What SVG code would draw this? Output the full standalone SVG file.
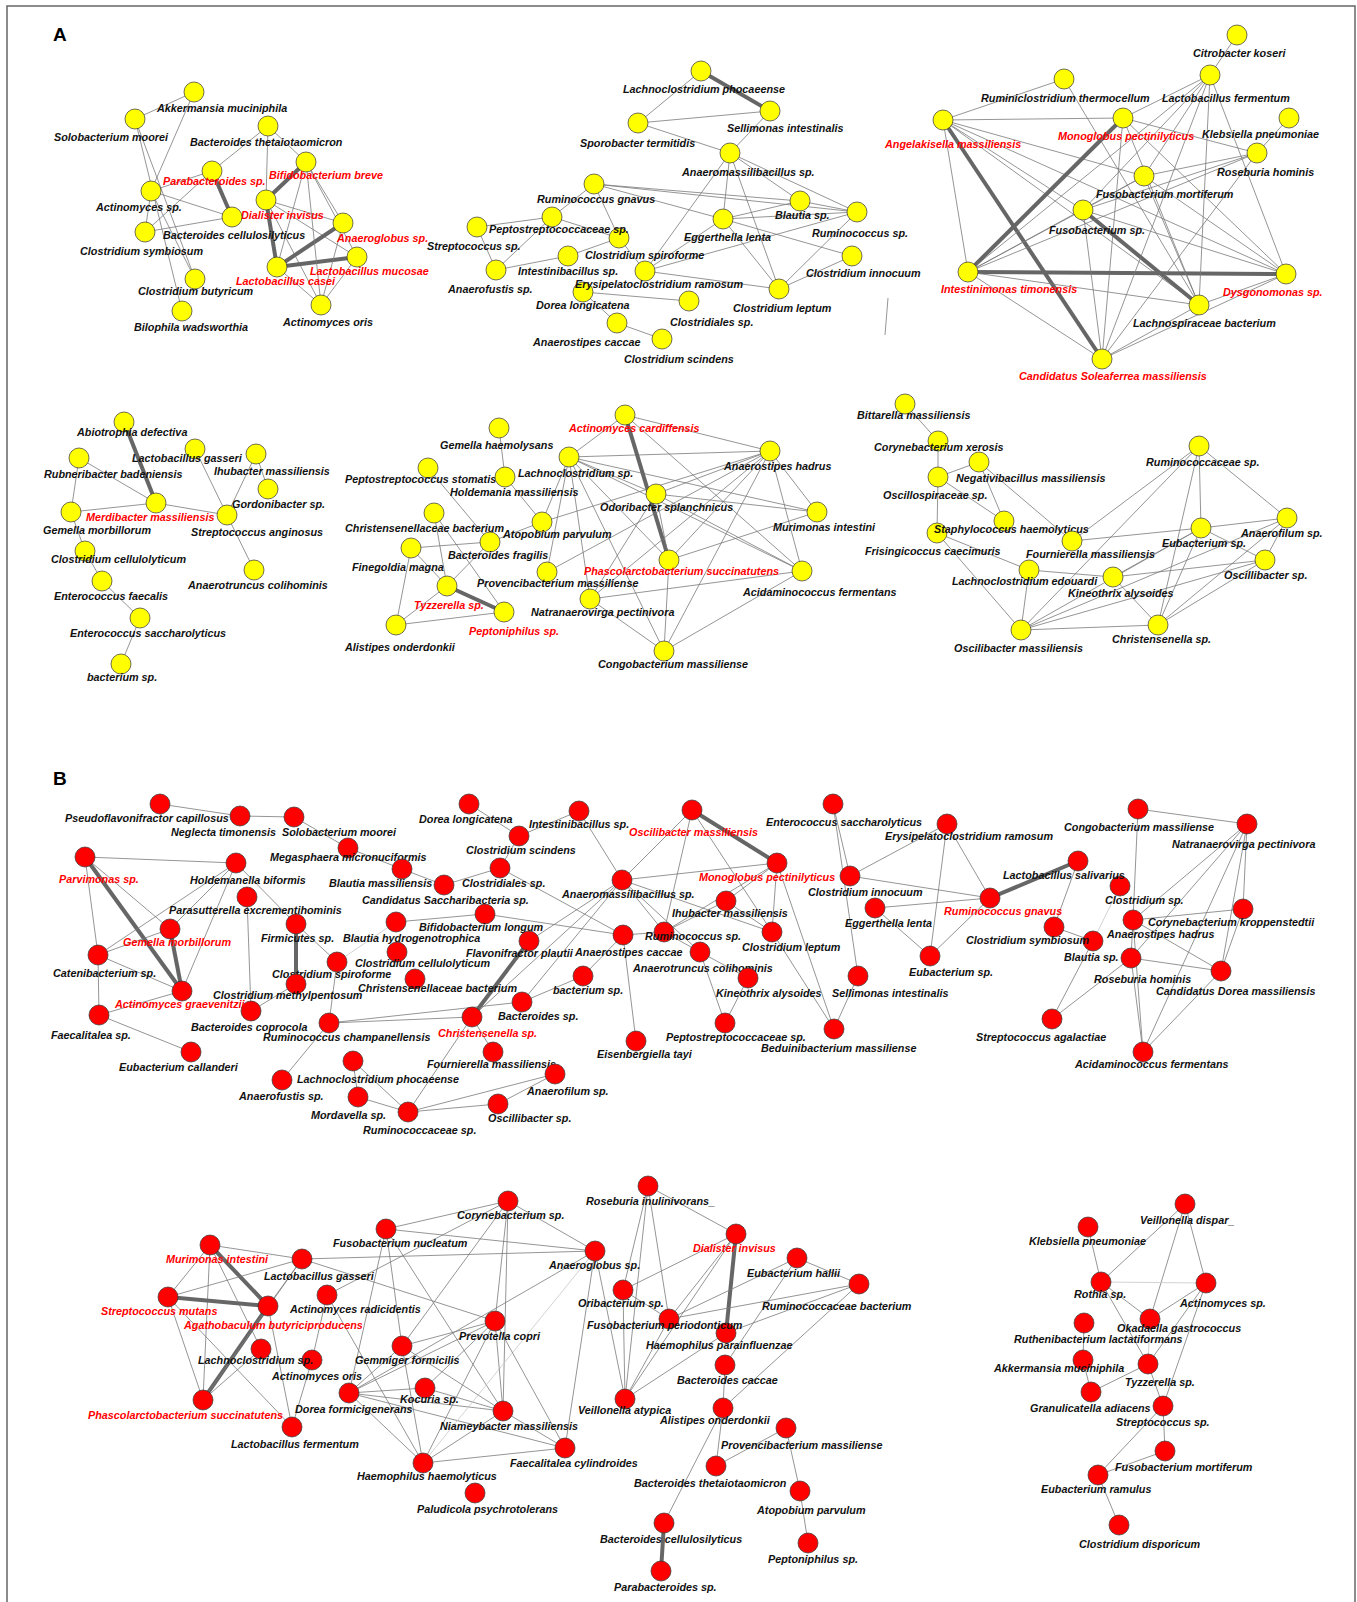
<svg xmlns="http://www.w3.org/2000/svg" width="1357" height="1602" viewBox="0 0 1357 1602">
<style>
text{font-family:"Liberation Sans",Arial,Helvetica,sans-serif;font-size:10.8px;font-weight:bold;font-style:italic;fill:#111}
text.rt{fill:#ff0000}
text.pl{font-size:19px;font-style:normal;fill:#000}
circle{stroke:#333;stroke-width:0.7}
circle.y{fill:#ffff00}
circle.r{fill:#ff0000}
#connectors line{stroke:#7a7a7a;stroke-width:0.8}
#connectors line.T{stroke:#666;stroke-width:4}
#connectors line.L{stroke:#c8c8c8}
</style>
<rect x="7" y="6" width="1348" height="1600" fill="#fff" stroke="#666" stroke-width="1.5"/>
<text class="pl" x="53" y="41">A</text>
<text class="pl" x="53" y="785">B</text>
<g id="connectors">
<line x1="194" y1="92" x2="135" y2="119"/><line x1="194" y1="92" x2="151" y2="191"/><line x1="135" y1="119" x2="195" y2="279"/><line x1="135" y1="119" x2="182" y2="311"/><line x1="151" y1="191" x2="195" y2="279"/><line x1="268" y1="126" x2="212" y2="171"/><line x1="268" y1="126" x2="306" y2="162"/><line x1="268" y1="126" x2="266" y2="200"/><line x1="212" y1="171" x2="151" y2="191"/><line x1="212" y1="171" x2="145" y2="232"/><line class="T" x1="212" y1="171" x2="232" y2="217"/><line x1="151" y1="191" x2="232" y2="217"/><line x1="151" y1="191" x2="145" y2="232"/><line x1="145" y1="232" x2="232" y2="217"/><line class="T" x1="266" y1="200" x2="306" y2="162"/><line class="T" x1="266" y1="200" x2="277" y2="267"/><line x1="266" y1="200" x2="343" y2="223"/><line x1="266" y1="200" x2="321" y2="305"/><line x1="266" y1="200" x2="357" y2="257"/><line class="T" x1="277" y1="267" x2="343" y2="223"/><line class="T" x1="277" y1="267" x2="357" y2="257"/><line x1="306" y1="162" x2="277" y2="267"/><line x1="306" y1="162" x2="343" y2="223"/><line x1="306" y1="162" x2="357" y2="257"/><line x1="306" y1="162" x2="321" y2="305"/><line x1="343" y1="223" x2="321" y2="305"/><line x1="357" y1="257" x2="321" y2="305"/><line x1="277" y1="267" x2="321" y2="305"/>
<line class="T" x1="701" y1="71" x2="770" y2="111"/><line x1="701" y1="71" x2="638" y2="123"/><line x1="638" y1="123" x2="770" y2="111"/><line x1="638" y1="123" x2="730" y2="153"/><line x1="770" y1="111" x2="730" y2="153"/><line x1="730" y1="153" x2="723" y2="219"/><line x1="730" y1="153" x2="800" y2="201"/><line x1="730" y1="153" x2="857" y2="212"/><line x1="730" y1="153" x2="779" y2="289"/><line x1="730" y1="153" x2="645" y2="271"/><line x1="594" y1="184" x2="800" y2="201"/><line x1="594" y1="184" x2="857" y2="212"/><line x1="594" y1="184" x2="723" y2="219"/><line x1="594" y1="184" x2="552" y2="217"/><line x1="594" y1="184" x2="619" y2="238"/><line x1="552" y1="217" x2="477" y2="227"/><line x1="552" y1="217" x2="619" y2="238"/><line x1="552" y1="217" x2="496" y2="270"/><line x1="477" y1="227" x2="496" y2="270"/><line x1="496" y1="270" x2="568" y2="256"/><line x1="568" y1="256" x2="619" y2="238"/><line x1="619" y1="238" x2="645" y2="271"/><line x1="723" y1="219" x2="800" y2="201"/><line x1="723" y1="219" x2="857" y2="212"/><line x1="723" y1="219" x2="645" y2="271"/><line x1="723" y1="219" x2="779" y2="289"/><line x1="723" y1="219" x2="852" y2="256"/><line x1="800" y1="201" x2="857" y2="212"/><line x1="857" y1="212" x2="645" y2="271"/><line x1="857" y1="212" x2="779" y2="289"/><line x1="645" y1="271" x2="779" y2="289"/><line x1="779" y1="289" x2="852" y2="256"/><line x1="583" y1="292" x2="689" y2="301"/><line x1="583" y1="292" x2="617" y2="323"/><line x1="617" y1="323" x2="662" y2="339"/><line x1="888" y1="298" x2="885" y2="335"/>
<line x1="1237" y1="35" x2="1210" y2="75"/><line x1="1064" y1="79" x2="943" y2="120"/><line x1="1064" y1="79" x2="1199" y2="305"/><line x1="943" y1="120" x2="1123" y2="118"/><line class="T" x1="943" y1="120" x2="1102" y2="359"/><line x1="943" y1="120" x2="968" y2="272"/><line x1="943" y1="120" x2="1144" y2="176"/><line x1="943" y1="120" x2="1286" y2="274"/><line x1="943" y1="120" x2="1199" y2="305"/><line x1="943" y1="120" x2="1083" y2="210"/><line class="T" x1="1123" y1="118" x2="968" y2="272"/><line x1="1123" y1="118" x2="1257" y2="153"/><line x1="1123" y1="118" x2="1210" y2="75"/><line x1="1123" y1="118" x2="1199" y2="305"/><line x1="1123" y1="118" x2="1102" y2="359"/><line x1="1123" y1="118" x2="1286" y2="274"/><line class="T" x1="1083" y1="210" x2="1199" y2="305"/><line class="T" x1="968" y1="272" x2="1286" y2="274"/><line x1="1210" y1="75" x2="968" y2="272"/><line x1="1210" y1="75" x2="1083" y2="210"/><line x1="1210" y1="75" x2="1144" y2="176"/><line x1="1210" y1="75" x2="1199" y2="305"/><line x1="1210" y1="75" x2="1286" y2="274"/><line x1="1210" y1="75" x2="1102" y2="359"/><line x1="1289" y1="118" x2="1257" y2="153"/><line x1="1257" y1="153" x2="1083" y2="210"/><line x1="1257" y1="153" x2="1144" y2="176"/><line x1="1257" y1="153" x2="968" y2="272"/><line x1="1257" y1="153" x2="1102" y2="359"/><line x1="1144" y1="176" x2="968" y2="272"/><line x1="1144" y1="176" x2="1199" y2="305"/><line x1="1144" y1="176" x2="1286" y2="274"/><line x1="1144" y1="176" x2="1083" y2="210"/><line x1="1083" y1="210" x2="968" y2="272"/><line x1="1083" y1="210" x2="1286" y2="274"/><line x1="1083" y1="210" x2="1102" y2="359"/><line x1="968" y1="272" x2="1199" y2="305"/><line x1="968" y1="272" x2="1102" y2="359"/><line x1="1199" y1="305" x2="1286" y2="274"/><line x1="1102" y1="359" x2="1286" y2="274"/><line x1="1102" y1="359" x2="1199" y2="305"/>
<line class="T" x1="124" y1="422" x2="156" y2="503"/><line x1="79" y1="458" x2="156" y2="503"/><line x1="79" y1="458" x2="71" y2="512"/><line x1="71" y1="512" x2="156" y2="503"/><line x1="156" y1="503" x2="227" y2="515"/><line x1="195" y1="449" x2="227" y2="515"/><line x1="256" y1="454" x2="227" y2="515"/><line x1="256" y1="454" x2="268" y2="489"/><line x1="227" y1="515" x2="254" y2="570"/><line x1="71" y1="512" x2="85" y2="551"/><line x1="85" y1="551" x2="102" y2="581"/><line x1="102" y1="581" x2="140" y2="618"/><line x1="140" y1="618" x2="121" y2="664"/>
<line x1="499" y1="428" x2="505" y2="477"/><line x1="428" y1="468" x2="490" y2="542"/><line x1="434" y1="513" x2="504" y2="612"/><line x1="434" y1="513" x2="447" y2="586"/><line x1="411" y1="548" x2="490" y2="542"/><line x1="411" y1="548" x2="447" y2="586"/><line x1="411" y1="548" x2="396" y2="625"/><line x1="396" y1="625" x2="447" y2="586"/><line x1="396" y1="625" x2="504" y2="612"/><line class="T" x1="447" y1="586" x2="504" y2="612"/><line x1="490" y1="542" x2="447" y2="586"/><line x1="542" y1="522" x2="490" y2="542"/><line x1="505" y1="477" x2="542" y2="522"/><line x1="569" y1="457" x2="625" y2="415"/><line x1="569" y1="457" x2="770" y2="451"/><line x1="569" y1="457" x2="542" y2="522"/><line x1="569" y1="457" x2="547" y2="572"/><line x1="569" y1="457" x2="590" y2="599"/><line x1="569" y1="457" x2="664" y2="651"/><line x1="569" y1="457" x2="669" y2="560"/><line x1="569" y1="457" x2="817" y2="512"/><line x1="569" y1="457" x2="802" y2="571"/><line x1="569" y1="457" x2="656" y2="494"/><line class="T" x1="625" y1="415" x2="669" y2="560"/><line x1="625" y1="415" x2="770" y2="451"/><line x1="625" y1="415" x2="802" y2="571"/><line x1="770" y1="451" x2="542" y2="522"/><line x1="770" y1="451" x2="656" y2="494"/><line x1="770" y1="451" x2="817" y2="512"/><line x1="770" y1="451" x2="802" y2="571"/><line x1="770" y1="451" x2="669" y2="560"/><line x1="770" y1="451" x2="590" y2="599"/><line x1="770" y1="451" x2="664" y2="651"/><line x1="770" y1="451" x2="547" y2="572"/><line x1="656" y1="494" x2="817" y2="512"/><line x1="656" y1="494" x2="669" y2="560"/><line x1="656" y1="494" x2="802" y2="571"/><line x1="656" y1="494" x2="590" y2="599"/><line x1="669" y1="560" x2="817" y2="512"/><line x1="669" y1="560" x2="664" y2="651"/><line x1="590" y1="599" x2="802" y2="571"/><line x1="590" y1="599" x2="664" y2="651"/><line x1="802" y1="571" x2="664" y2="651"/>
<line x1="905" y1="404" x2="938" y2="441"/><line x1="938" y1="441" x2="938" y2="477"/><line x1="938" y1="477" x2="979" y2="462"/><line x1="979" y1="462" x2="1004" y2="521"/><line x1="979" y1="462" x2="1072" y2="541"/><line x1="938" y1="477" x2="1004" y2="521"/><line x1="938" y1="477" x2="937" y2="533"/><line x1="937" y1="533" x2="1029" y2="570"/><line x1="937" y1="533" x2="1021" y2="630"/><line x1="1072" y1="541" x2="1201" y2="528"/><line x1="1072" y1="541" x2="1199" y2="446"/><line x1="1029" y1="570" x2="1113" y2="577"/><line x1="1029" y1="570" x2="1021" y2="630"/><line x1="1113" y1="577" x2="1201" y2="528"/><line x1="1113" y1="577" x2="1265" y2="560"/><line x1="1113" y1="577" x2="1158" y2="625"/><line x1="1021" y1="630" x2="1199" y2="446"/><line x1="1021" y1="630" x2="1158" y2="625"/><line x1="1021" y1="630" x2="1265" y2="560"/><line x1="1021" y1="630" x2="1287" y2="518"/><line x1="1021" y1="630" x2="1201" y2="528"/><line x1="1199" y1="446" x2="1201" y2="528"/><line x1="1199" y1="446" x2="1287" y2="518"/><line x1="1199" y1="446" x2="1158" y2="625"/><line x1="1201" y1="528" x2="1287" y2="518"/><line x1="1201" y1="528" x2="1265" y2="560"/><line x1="1201" y1="528" x2="1158" y2="625"/><line x1="1287" y1="518" x2="1158" y2="625"/><line x1="1287" y1="518" x2="1265" y2="560"/><line x1="1265" y1="560" x2="1158" y2="625"/>
<line x1="160" y1="804" x2="240" y2="816"/><line x1="240" y1="816" x2="294" y2="817"/><line x1="294" y1="817" x2="348" y2="848"/><line x1="348" y1="848" x2="402" y2="869"/><line x1="402" y1="869" x2="444" y2="885"/><line x1="85" y1="857" x2="236" y2="863"/><line class="T" x1="85" y1="857" x2="182" y2="991"/><line x1="85" y1="857" x2="170" y2="929"/><line x1="85" y1="857" x2="98" y2="955"/><line x1="236" y1="863" x2="98" y2="955"/><line x1="236" y1="863" x2="170" y2="929"/><line x1="236" y1="863" x2="182" y2="991"/><line x1="236" y1="863" x2="296" y2="924"/><line class="T" x1="170" y1="929" x2="182" y2="991"/><line x1="170" y1="929" x2="98" y2="955"/><line x1="98" y1="955" x2="182" y2="991"/><line x1="98" y1="955" x2="99" y2="1015"/><line x1="99" y1="1015" x2="182" y2="991"/><line x1="99" y1="1015" x2="191" y2="1052"/><line x1="247" y1="897" x2="251" y2="1011"/><line class="T" x1="296" y1="924" x2="296" y2="984"/><line x1="296" y1="924" x2="337" y2="962"/><line class="L" x1="337" y1="962" x2="396" y2="922"/><line x1="337" y1="962" x2="329" y2="1023"/><line x1="296" y1="984" x2="251" y2="1011"/><line x1="396" y1="922" x2="485" y2="914"/><line x1="485" y1="914" x2="623" y2="935"/><line x1="329" y1="1023" x2="522" y2="1002"/><line x1="329" y1="1023" x2="472" y2="1017"/><line x1="329" y1="1023" x2="282" y2="1080"/><line x1="353" y1="1061" x2="358" y2="1097"/><line x1="353" y1="1061" x2="408" y2="1112"/><line x1="358" y1="1097" x2="408" y2="1112"/><line x1="408" y1="1112" x2="472" y2="1017"/><line x1="408" y1="1112" x2="555" y2="1074"/><line x1="408" y1="1112" x2="498" y2="1104"/><line x1="472" y1="1017" x2="493" y2="1052"/><line class="T" x1="472" y1="1017" x2="529" y2="941"/><line x1="555" y1="1074" x2="498" y2="1104"/><line x1="469" y1="804" x2="519" y2="836"/><line x1="519" y1="836" x2="579" y2="811"/><line x1="579" y1="811" x2="622" y2="880"/><line x1="500" y1="868" x2="623" y2="935"/><line x1="500" y1="868" x2="444" y2="885"/><line x1="500" y1="868" x2="519" y2="836"/><line x1="622" y1="880" x2="692" y2="810"/><line x1="622" y1="880" x2="777" y2="863"/><line x1="622" y1="880" x2="664" y2="932"/><line x1="622" y1="880" x2="772" y2="932"/><line x1="622" y1="880" x2="700" y2="952"/><line x1="622" y1="880" x2="472" y2="1017"/><line x1="622" y1="880" x2="522" y2="1002"/><line x1="622" y1="880" x2="529" y2="941"/><line class="T" x1="692" y1="810" x2="777" y2="863"/><line x1="692" y1="810" x2="664" y2="932"/><line x1="692" y1="810" x2="772" y2="932"/><line x1="777" y1="863" x2="726" y2="901"/><line x1="777" y1="863" x2="772" y2="932"/><line x1="777" y1="863" x2="834" y2="1029"/><line x1="726" y1="901" x2="664" y2="932"/><line x1="664" y1="932" x2="777" y2="863"/><line x1="726" y1="901" x2="772" y2="932"/><line x1="664" y1="932" x2="623" y2="935"/><line x1="664" y1="932" x2="700" y2="952"/><line x1="623" y1="935" x2="583" y2="976"/><line x1="623" y1="935" x2="636" y2="1041"/><line x1="700" y1="952" x2="748" y2="978"/><line x1="748" y1="978" x2="725" y2="1023"/><line x1="700" y1="952" x2="725" y2="1023"/><line x1="772" y1="932" x2="834" y2="1029"/><line x1="858" y1="976" x2="834" y2="1029"/><line x1="833" y1="804" x2="850" y2="876"/><line x1="833" y1="804" x2="858" y2="976"/><line x1="583" y1="976" x2="522" y2="1002"/>
<line x1="850" y1="876" x2="947" y2="824"/><line x1="850" y1="876" x2="990" y2="898"/><line x1="875" y1="908" x2="990" y2="898"/><line x1="875" y1="908" x2="930" y2="956"/><line x1="947" y1="824" x2="930" y2="956"/><line x1="947" y1="824" x2="990" y2="898"/><line class="T" x1="990" y1="898" x2="1078" y2="861"/><line x1="990" y1="898" x2="930" y2="956"/><line x1="1078" y1="861" x2="1054" y2="927"/><line x1="1054" y1="927" x2="1093" y2="941"/><line class="L" x1="1093" y1="941" x2="1120" y2="886"/><line x1="1093" y1="941" x2="1052" y2="1019"/><line x1="1052" y1="1019" x2="1131" y2="958"/><line x1="1138" y1="809" x2="1247" y2="824"/><line x1="1138" y1="809" x2="1133" y2="920"/><line x1="1247" y1="824" x2="1133" y2="920"/><line x1="1247" y1="824" x2="1131" y2="958"/><line x1="1247" y1="824" x2="1143" y2="1052"/><line x1="1247" y1="824" x2="1221" y2="971"/><line x1="1247" y1="824" x2="1243" y2="909"/><line x1="1133" y1="920" x2="1243" y2="909"/><line x1="1133" y1="920" x2="1131" y2="958"/><line x1="1133" y1="920" x2="1221" y2="971"/><line x1="1133" y1="920" x2="1143" y2="1052"/><line x1="1131" y1="958" x2="1221" y2="971"/><line x1="1131" y1="958" x2="1143" y2="1052"/><line x1="1221" y1="971" x2="1143" y2="1052"/><line x1="1243" y1="909" x2="1221" y2="971"/>
<line class="T" x1="210" y1="1245" x2="268" y2="1306"/><line x1="210" y1="1245" x2="302" y2="1259"/><line x1="210" y1="1245" x2="168" y2="1297"/><line x1="210" y1="1245" x2="203" y2="1400"/><line x1="210" y1="1245" x2="261" y2="1349"/><line class="T" x1="168" y1="1297" x2="268" y2="1306"/><line x1="168" y1="1297" x2="302" y2="1259"/><line x1="168" y1="1297" x2="203" y2="1400"/><line x1="168" y1="1297" x2="292" y2="1427"/><line class="T" x1="268" y1="1306" x2="203" y2="1400"/><line x1="268" y1="1306" x2="302" y2="1259"/><line x1="268" y1="1306" x2="292" y2="1427"/><line x1="203" y1="1400" x2="302" y2="1259"/><line x1="203" y1="1400" x2="261" y2="1349"/><line x1="302" y1="1259" x2="595" y2="1251"/><line x1="302" y1="1259" x2="495" y2="1321"/><line x1="327" y1="1295" x2="312" y2="1360"/><line x1="312" y1="1360" x2="292" y2="1427"/><line x1="327" y1="1295" x2="423" y2="1463"/><line x1="327" y1="1295" x2="508" y2="1201"/><line x1="386" y1="1229" x2="349" y2="1393"/><line x1="386" y1="1229" x2="402" y2="1346"/><line x1="386" y1="1229" x2="595" y2="1251"/><line x1="386" y1="1229" x2="503" y2="1411"/><line x1="386" y1="1229" x2="508" y2="1201"/><line x1="402" y1="1346" x2="349" y2="1393"/><line x1="402" y1="1346" x2="503" y2="1411"/><line x1="402" y1="1346" x2="423" y2="1463"/><line x1="402" y1="1346" x2="495" y2="1321"/><line x1="402" y1="1346" x2="508" y2="1201"/><line x1="349" y1="1393" x2="425" y2="1388"/><line x1="349" y1="1393" x2="503" y2="1411"/><line x1="349" y1="1393" x2="565" y2="1448"/><line x1="349" y1="1393" x2="423" y2="1463"/><line x1="349" y1="1393" x2="595" y2="1251"/><line x1="349" y1="1393" x2="495" y2="1321"/><line x1="425" y1="1388" x2="503" y2="1411"/><line x1="425" y1="1388" x2="495" y2="1321"/><line x1="423" y1="1463" x2="503" y2="1411"/><line x1="423" y1="1463" x2="565" y2="1448"/><line x1="423" y1="1463" x2="495" y2="1321"/><line x1="508" y1="1201" x2="595" y2="1251"/><line x1="508" y1="1201" x2="495" y2="1321"/><line x1="508" y1="1201" x2="503" y2="1411"/><line x1="595" y1="1251" x2="565" y2="1448"/><line x1="595" y1="1251" x2="625" y2="1399"/><line class="L" x1="595" y1="1251" x2="423" y2="1463"/><line x1="495" y1="1321" x2="503" y2="1411"/><line x1="495" y1="1321" x2="565" y2="1448"/><line x1="503" y1="1411" x2="565" y2="1448"/>
<line x1="648" y1="1186" x2="623" y2="1290"/><line x1="648" y1="1186" x2="625" y2="1399"/><line x1="648" y1="1186" x2="669" y2="1319"/><line x1="648" y1="1186" x2="736" y2="1234"/><line x1="623" y1="1290" x2="669" y2="1319"/><line x1="623" y1="1290" x2="625" y2="1399"/><line x1="623" y1="1290" x2="736" y2="1234"/><line class="T" x1="736" y1="1234" x2="726" y2="1333"/><line x1="736" y1="1234" x2="625" y2="1399"/><line x1="736" y1="1234" x2="669" y2="1319"/><line x1="669" y1="1319" x2="625" y2="1399"/><line x1="669" y1="1319" x2="797" y2="1258"/><line x1="669" y1="1319" x2="859" y2="1284"/><line x1="797" y1="1258" x2="859" y2="1284"/><line x1="797" y1="1258" x2="725" y2="1365"/><line x1="859" y1="1284" x2="726" y2="1333"/><line x1="859" y1="1284" x2="723" y2="1408"/><line x1="625" y1="1399" x2="726" y2="1333"/><line x1="725" y1="1365" x2="723" y2="1408"/><line x1="723" y1="1408" x2="716" y2="1466"/><line x1="723" y1="1408" x2="664" y2="1523"/><line x1="786" y1="1428" x2="716" y2="1466"/><line x1="786" y1="1428" x2="800" y2="1491"/><line x1="800" y1="1491" x2="808" y2="1543"/><line class="T" x1="664" y1="1523" x2="661" y2="1571"/>
<line x1="1185" y1="1204" x2="1101" y2="1282"/><line x1="1185" y1="1204" x2="1150" y2="1319"/><line x1="1185" y1="1204" x2="1206" y2="1283"/><line x1="1088" y1="1227" x2="1101" y2="1282"/><line class="L" x1="1101" y1="1282" x2="1206" y2="1283"/><line x1="1101" y1="1282" x2="1150" y2="1319"/><line x1="1101" y1="1282" x2="1148" y2="1364"/><line x1="1206" y1="1283" x2="1150" y2="1319"/><line x1="1206" y1="1283" x2="1148" y2="1364"/><line x1="1206" y1="1283" x2="1163" y2="1406"/><line class="L" x1="1150" y1="1319" x2="1148" y2="1364"/><line x1="1084" y1="1323" x2="1083" y2="1360"/><line x1="1083" y1="1360" x2="1091" y2="1392"/><line x1="1148" y1="1364" x2="1091" y2="1392"/><line x1="1148" y1="1364" x2="1163" y2="1406"/><line x1="1163" y1="1406" x2="1165" y2="1451"/><line x1="1163" y1="1406" x2="1098" y2="1475"/><line x1="1165" y1="1451" x2="1098" y2="1475"/><line x1="1098" y1="1475" x2="1119" y2="1525"/>
</g>
<g id="nodes">
<g id="a-akk"><circle class="y" cx="194" cy="92" r="10"/><text x="157" y="112">Akkermansia muciniphila</text></g>
<g id="a-solo"><circle class="y" cx="135" cy="119" r="10"/><text x="54" y="141">Solobacterium moorei</text></g>
<g id="a-btheta"><circle class="y" cx="268" cy="126" r="10"/><text x="190" y="146">Bacteroides thetaiotaomicron</text></g>
<g id="a-bifb"><circle class="y" cx="306" cy="162" r="10"/><text class="rt" x="269" y="179">Bifidobacterium breve</text></g>
<g id="a-parab"><circle class="y" cx="212" cy="171" r="10"/><text class="rt" x="163" y="185">Parabacteroides sp.</text></g>
<g id="a-actsp"><circle class="y" cx="151" cy="191" r="10"/><text x="96" y="211">Actinomyces sp.</text></g>
<g id="a-dial"><circle class="y" cx="266" cy="200" r="10"/><text class="rt" x="241" y="219">Dialister invisus</text></g>
<g id="a-bcell"><circle class="y" cx="232" cy="217" r="10"/><text x="163" y="239">Bacteroides cellulosilyticus</text></g>
<g id="a-anaerog"><circle class="y" cx="343" cy="223" r="10"/><text class="rt" x="337" y="242">Anaeroglobus sp.</text></g>
<g id="a-csym"><circle class="y" cx="145" cy="232" r="10"/><text x="80" y="255">Clostridium symbiosum</text></g>
<g id="a-lmuc"><circle class="y" cx="357" cy="257" r="10"/><text class="rt" x="310" y="275">Lactobacillus mucosae</text></g>
<g id="a-lcas"><circle class="y" cx="277" cy="267" r="10"/><text class="rt" x="236" y="285">Lactobacillus casei</text></g>
<g id="a-cbut"><circle class="y" cx="195" cy="279" r="10"/><text x="138" y="295">Clostridium butyricum</text></g>
<g id="a-aoris"><circle class="y" cx="321" cy="305" r="10"/><text x="283" y="326">Actinomyces oris</text></g>
<g id="a-bilo"><circle class="y" cx="182" cy="311" r="10"/><text x="134" y="331">Bilophila wadsworthia</text></g>

<g id="b-lphoc"><circle class="y" cx="701" cy="71" r="10"/><text x="623" y="93">Lachnoclostridium phocaeense</text></g>
<g id="b-sell"><circle class="y" cx="770" cy="111" r="10"/><text x="727" y="132">Sellimonas intestinalis</text></g>
<g id="b-spor"><circle class="y" cx="638" cy="123" r="10"/><text x="580" y="147">Sporobacter termitidis</text></g>
<g id="b-anmas"><circle class="y" cx="730" cy="153" r="10"/><text x="682" y="176">Anaeromassilibacillus sp.</text></g>
<g id="b-rgnav"><circle class="y" cx="594" cy="184" r="10"/><text x="537" y="203">Ruminococcus gnavus</text></g>
<g id="b-blau"><circle class="y" cx="800" cy="201" r="10"/><text x="775" y="219">Blautia sp.</text></g>
<g id="b-rumsp"><circle class="y" cx="857" cy="212" r="10"/><text x="812" y="237">Ruminococcus sp.</text></g>
<g id="b-strep"><circle class="y" cx="477" cy="227" r="10"/><text x="427" y="250">Streptococcus sp.</text></g>
<g id="b-egg"><circle class="y" cx="723" cy="219" r="10"/><text x="684" y="241">Eggerthella lenta</text></g>
<g id="b-cspir"><circle class="y" cx="619" cy="238" r="10"/><text x="585" y="259">Clostridium spiroforme</text></g>
<g id="b-pepto"><circle class="y" cx="552" cy="217" r="10"/><text x="489" y="233">Peptostreptococcaceae sp.</text></g>
<g id="b-intes"><circle class="y" cx="568" cy="256" r="10"/><text x="518" y="275">Intestinibacillus sp.</text></g>
<g id="b-anfus"><circle class="y" cx="496" cy="270" r="10"/><text x="448" y="293">Anaerofustis sp.</text></g>
<g id="b-cinn"><circle class="y" cx="852" cy="256" r="10"/><text x="806" y="277">Clostridium innocuum</text></g>
<g id="b-dorea"><circle class="y" cx="583" cy="292" r="10"/><text x="536" y="309">Dorea longicatena</text></g>
<g id="b-erys"><circle class="y" cx="645" cy="271" r="10"/><text x="575" y="288">Erysipelatoclostridium ramosum</text></g>
<g id="b-clos"><circle class="y" cx="689" cy="301" r="10"/><text x="670" y="326">Clostridiales sp.</text></g>
<g id="b-clep"><circle class="y" cx="779" cy="289" r="10"/><text x="733" y="312">Clostridium leptum</text></g>
<g id="b-ancac"><circle class="y" cx="617" cy="323" r="10"/><text x="533" y="346">Anaerostipes caccae</text></g>
<g id="b-cscin"><circle class="y" cx="662" cy="339" r="10"/><text x="624" y="363">Clostridium scindens</text></g>

<g id="c-citro"><circle class="y" cx="1237" cy="35" r="10"/><text x="1193" y="57">Citrobacter koseri</text></g>
<g id="c-lferm"><circle class="y" cx="1210" cy="75" r="10"/><text x="1162" y="102">Lactobacillus fermentum</text></g>
<g id="c-rumin"><circle class="y" cx="1064" cy="79" r="10"/><text x="981" y="102">Ruminiclostridium thermocellum</text></g>
<g id="c-angel"><circle class="y" cx="943" cy="120" r="10"/><text class="rt" x="885" y="148">Angelakisella massiliensis</text></g>
<g id="c-mono"><circle class="y" cx="1123" cy="118" r="10"/><text class="rt" x="1058" y="140">Monoglobus pectinilyticus</text></g>
<g id="c-kleb"><circle class="y" cx="1289" cy="118" r="10"/><text x="1202" y="138">Klebsiella pneumoniae</text></g>
<g id="c-rose"><circle class="y" cx="1257" cy="153" r="10"/><text x="1217" y="176">Roseburia hominis</text></g>
<g id="c-fmort"><circle class="y" cx="1144" cy="176" r="10"/><text x="1096" y="198">Fusobacterium mortiferum</text></g>
<g id="c-fusp"><circle class="y" cx="1083" cy="210" r="10"/><text x="1049" y="234">Fusobacterium sp.</text></g>
<g id="c-intest"><circle class="y" cx="968" cy="272" r="10"/><text class="rt" x="941" y="293">Intestinimonas timonensis</text></g>
<g id="c-dysg"><circle class="y" cx="1286" cy="274" r="10"/><text class="rt" x="1223" y="296">Dysgonomonas sp.</text></g>
<g id="c-lachb"><circle class="y" cx="1199" cy="305" r="10"/><text x="1133" y="327">Lachnospiraceae bacterium</text></g>
<g id="c-cand"><circle class="y" cx="1102" cy="359" r="10"/><text class="rt" x="1019" y="380">Candidatus Soleaferrea massiliensis</text></g>

<g id="d-abio"><circle class="y" cx="124" cy="422" r="10"/><text x="77" y="436">Abiotrophia defectiva</text></g>
<g id="d-lgas"><circle class="y" cx="195" cy="449" r="10"/><text x="132" y="462">Lactobacillus gasseri</text></g>
<g id="d-ihub"><circle class="y" cx="256" cy="454" r="10"/><text x="214" y="475">Ihubacter massiliensis</text></g>
<g id="d-rubn"><circle class="y" cx="79" cy="458" r="10"/><text x="44" y="478">Rubneribacter badeniensis</text></g>
<g id="d-gord"><circle class="y" cx="268" cy="489" r="10"/><text x="232" y="508">Gordonibacter sp.</text></g>
<g id="d-merd"><circle class="y" cx="156" cy="503" r="10"/><text class="rt" x="86" y="521">Merdibacter massiliensis</text></g>
<g id="d-gem"><circle class="y" cx="71" cy="512" r="10"/><text x="43" y="534">Gemella morbillorum</text></g>
<g id="d-sang"><circle class="y" cx="227" cy="515" r="10"/><text x="191" y="536">Streptococcus anginosus</text></g>
<g id="d-ccel"><circle class="y" cx="85" cy="551" r="10"/><text x="51" y="563">Clostridium cellulolyticum</text></g>
<g id="d-anaet"><circle class="y" cx="254" cy="570" r="10"/><text x="188" y="589">Anaerotruncus colihominis</text></g>
<g id="d-efae"><circle class="y" cx="102" cy="581" r="10"/><text x="54" y="600">Enterococcus faecalis</text></g>
<g id="d-esac"><circle class="y" cx="140" cy="618" r="10"/><text x="70" y="637">Enterococcus saccharolyticus</text></g>
<g id="d-bact"><circle class="y" cx="121" cy="664" r="10"/><text x="87" y="681">bacterium sp.</text></g>

<g id="e-gemh"><circle class="y" cx="499" cy="428" r="10"/><text x="440" y="449">Gemella haemolysans</text></g>
<g id="e-pstom"><circle class="y" cx="428" cy="468" r="10"/><text x="345" y="483">Peptostreptococcus stomatis</text></g>
<g id="e-hold"><circle class="y" cx="505" cy="477" r="10"/><text x="450" y="496">Holdemania massiliensis</text></g>
<g id="e-chrb"><circle class="y" cx="434" cy="513" r="10"/><text x="345" y="532">Christensenellaceae bacterium</text></g>
<g id="e-fine"><circle class="y" cx="411" cy="548" r="10"/><text x="352" y="571">Finegoldia magna</text></g>
<g id="e-tyz"><circle class="y" cx="447" cy="586" r="10"/><text class="rt" x="414" y="609">Tyzzerella sp.</text></g>
<g id="e-alis"><circle class="y" cx="396" cy="625" r="10"/><text x="345" y="651">Alistipes onderdonkii</text></g>
<g id="e-acard"><circle class="y" cx="625" cy="415" r="10"/><text class="rt" x="569" y="432">Actinomyces cardiffensis</text></g>
<g id="e-lachsp"><circle class="y" cx="569" cy="457" r="10"/><text x="518" y="477">Lachnoclostridium sp.</text></g>
<g id="e-ahad"><circle class="y" cx="770" cy="451" r="10"/><text x="724" y="470">Anaerostipes hadrus</text></g>
<g id="e-odor"><circle class="y" cx="656" cy="494" r="10"/><text x="600" y="511">Odoribacter splanchnicus</text></g>
<g id="e-muri"><circle class="y" cx="817" cy="512" r="10"/><text x="773" y="531">Murimonas intestini</text></g>
<g id="e-atop"><circle class="y" cx="542" cy="522" r="10"/><text x="503" y="538">Atopobium parvulum</text></g>
<g id="e-bfrag"><circle class="y" cx="490" cy="542" r="10"/><text x="448" y="559">Bacteroides fragilis</text></g>
<g id="e-phas"><circle class="y" cx="669" cy="560" r="10"/><text class="rt" x="584" y="575">Phascolarctobacterium succinatutens</text></g>
<g id="e-acid"><circle class="y" cx="802" cy="571" r="10"/><text x="743" y="596">Acidaminococcus fermentans</text></g>
<g id="e-prov"><circle class="y" cx="547" cy="572" r="10"/><text x="477" y="587">Provencibacterium massiliense</text></g>
<g id="e-natr"><circle class="y" cx="590" cy="599" r="10"/><text x="531" y="616">Natranaerovirga pectinivora</text></g>
<g id="e-pept"><circle class="y" cx="504" cy="612" r="10"/><text class="rt" x="469" y="635">Peptoniphilus sp.</text></g>
<g id="e-congo"><circle class="y" cx="664" cy="651" r="10"/><text x="598" y="668">Congobacterium massiliense</text></g>

<g id="f-bitt"><circle class="y" cx="905" cy="404" r="10"/><text x="857" y="419">Bittarella massiliensis</text></g>
<g id="f-neg"><circle class="y" cx="979" cy="462" r="10"/><text x="956" y="482">Negativibacillus massiliensis</text></g>
<g id="f-cxer"><circle class="y" cx="938" cy="441" r="10"/><text x="874" y="451">Corynebacterium xerosis</text></g>
<g id="f-oscp"><circle class="y" cx="938" cy="477" r="10"/><text x="883" y="499">Oscillospiraceae sp.</text></g>
<g id="f-fris"><circle class="y" cx="937" cy="533" r="10"/><text x="865" y="555">Frisingicoccus caecimuris</text></g>
<g id="f-staph"><circle class="y" cx="1004" cy="521" r="10"/><text x="934" y="533">Staphylococcus haemolyticus</text></g>
<g id="f-fourn"><circle class="y" cx="1072" cy="541" r="10"/><text x="1026" y="558">Fournierella massiliensis</text></g>
<g id="f-ledo"><circle class="y" cx="1029" cy="570" r="10"/><text x="952" y="585">Lachnoclostridium edouardi</text></g>
<g id="f-kine"><circle class="y" cx="1113" cy="577" r="10"/><text x="1068" y="597">Kineothrix alysoides</text></g>
<g id="f-oscm"><circle class="y" cx="1021" cy="630" r="10"/><text x="954" y="652">Oscilibacter massiliensis</text></g>
<g id="f-chris"><circle class="y" cx="1158" cy="625" r="10"/><text x="1112" y="643">Christensenella sp.</text></g>
<g id="f-rumc"><circle class="y" cx="1199" cy="446" r="10"/><text x="1146" y="466">Ruminococcaceae sp.</text></g>
<g id="f-eub"><circle class="y" cx="1201" cy="528" r="10"/><text x="1162" y="547">Eubacterium sp.</text></g>
<g id="f-anfil"><circle class="y" cx="1287" cy="518" r="10"/><text x="1241" y="537">Anaerofilum sp.</text></g>
<g id="f-oscsp"><circle class="y" cx="1265" cy="560" r="10"/><text x="1224" y="579">Oscillibacter sp.</text></g>

<g id="g-pseu"><circle class="r" cx="160" cy="804" r="10"/><text x="65" y="822">Pseudoflavonifractor capillosus</text></g>
<g id="g-negl"><circle class="r" cx="240" cy="816" r="10"/><text x="171" y="836">Neglecta timonensis</text></g>
<g id="g-solo"><circle class="r" cx="294" cy="817" r="10"/><text x="282" y="836">Solobacterium moorei</text></g>
<g id="g-mega"><circle class="r" cx="348" cy="848" r="10"/><text x="270" y="861">Megasphaera micronuciformis</text></g>
<g id="g-parv"><circle class="r" cx="85" cy="857" r="10"/><text class="rt" x="59" y="883">Parvimonas sp.</text></g>
<g id="g-hold"><circle class="r" cx="236" cy="863" r="10"/><text x="190" y="884">Holdemanella biformis</text></g>
<g id="g-blma"><circle class="r" cx="402" cy="869" r="10"/><text x="329" y="887">Blautia massiliensis</text></g>
<g id="g-cand"><circle class="r" cx="444" cy="885" r="10"/><text x="362" y="904">Candidatus Saccharibacteria sp.</text></g>
<g id="g-para"><circle class="r" cx="247" cy="897" r="10"/><text x="169" y="914">Parasutterella excrementihominis</text></g>
<g id="g-firm"><circle class="r" cx="296" cy="924" r="10"/><text x="261" y="942">Firmicutes sp.</text></g>
<g id="g-blhy"><circle class="r" cx="396" cy="922" r="10"/><text x="343" y="942">Blautia hydrogenotrophica</text></g>
<g id="g-gem"><circle class="r" cx="170" cy="929" r="10"/><text class="rt" x="123" y="946">Gemella morbillorum</text></g>
<g id="g-cate"><circle class="r" cx="98" cy="955" r="10"/><text x="53" y="977">Catenibacterium sp.</text></g>
<g id="g-chrb"><circle class="r" cx="415" cy="979" r="10"/><text x="358" y="992">Christensenellaceae bacterium</text></g>
<g id="g-ccel"><circle class="r" cx="397" cy="952" r="10"/><text x="355" y="967">Clostridium cellulolyticum</text></g>
<g id="g-cspi"><circle class="r" cx="337" cy="962" r="10"/><text x="272" y="978">Clostridium spiroforme</text></g>
<g id="g-cmet"><circle class="r" cx="296" cy="984" r="10"/><text x="213" y="999">Clostridium methylpentosum</text></g>
<g id="g-bcop"><circle class="r" cx="251" cy="1011" r="10"/><text x="191" y="1031">Bacteroides coprocola</text></g>
<g id="g-agra"><circle class="r" cx="182" cy="991" r="10"/><text class="rt" x="115" y="1008">Actinomyces graevenitzii</text></g>
<g id="g-faec"><circle class="r" cx="99" cy="1015" r="10"/><text x="51" y="1039">Faecalitalea sp.</text></g>
<g id="g-rcha"><circle class="r" cx="329" cy="1023" r="10"/><text x="263" y="1041">Ruminococcus champanellensis</text></g>
<g id="g-ecal"><circle class="r" cx="191" cy="1052" r="10"/><text x="119" y="1071">Eubacterium callanderi</text></g>
<g id="g-lpho"><circle class="r" cx="353" cy="1061" r="10"/><text x="297" y="1083">Lachnoclostridium phocaeense</text></g>
<g id="g-anfu"><circle class="r" cx="282" cy="1080" r="10"/><text x="239" y="1100">Anaerofustis sp.</text></g>
<g id="g-mord"><circle class="r" cx="358" cy="1097" r="10"/><text x="311" y="1119">Mordavella sp.</text></g>
<g id="g-rumc"><circle class="r" cx="408" cy="1112" r="10"/><text x="363" y="1134">Ruminococcaceae sp.</text></g>
<g id="g-chris"><circle class="r" cx="472" cy="1017" r="10"/><text class="rt" x="438" y="1037">Christensenella sp.</text></g>
<g id="g-fourn"><circle class="r" cx="493" cy="1052" r="10"/><text x="427" y="1068">Fournierella massiliensis</text></g>
<g id="g-dorea"><circle class="r" cx="469" cy="804" r="10"/><text x="419" y="823">Dorea longicatena</text></g>
<g id="g-intes"><circle class="r" cx="579" cy="811" r="10"/><text x="529" y="828">Intestinibacillus sp.</text></g>
<g id="g-cscin"><circle class="r" cx="519" cy="836" r="10"/><text x="466" y="854">Clostridium scindens</text></g>
<g id="g-oscm"><circle class="r" cx="692" cy="810" r="10"/><text class="rt" x="629" y="836">Oscilibacter massiliensis</text></g>
<g id="g-esac"><circle class="r" cx="833" cy="804" r="10"/><text x="766" y="826">Enterococcus saccharolyticus</text></g>
<g id="g-clos"><circle class="r" cx="500" cy="868" r="10"/><text x="462" y="887">Clostridiales sp.</text></g>
<g id="g-mono"><circle class="r" cx="777" cy="863" r="10"/><text class="rt" x="699" y="881">Monoglobus pectinilyticus</text></g>
<g id="g-anmas"><circle class="r" cx="622" cy="880" r="10"/><text x="562" y="898">Anaeromassilibacillus sp.</text></g>
<g id="g-cinn"><circle class="r" cx="850" cy="876" r="10"/><text x="808" y="896">Clostridium innocuum</text></g>
<g id="g-ihub"><circle class="r" cx="726" cy="901" r="10"/><text x="672" y="917">Ihubacter massiliensis</text></g>
<g id="g-egg"><circle class="r" cx="875" cy="908" r="10"/><text x="845" y="927">Eggerthella lenta</text></g>
<g id="g-bifl"><circle class="r" cx="485" cy="914" r="10"/><text x="419" y="931">Bifidobacterium longum</text></g>
<g id="g-ancac"><circle class="r" cx="623" cy="935" r="10"/><text x="575" y="956">Anaerostipes caccae</text></g>
<g id="g-rumsp"><circle class="r" cx="664" cy="932" r="10"/><text x="645" y="940">Ruminococcus sp.</text></g>
<g id="g-clep"><circle class="r" cx="772" cy="932" r="10"/><text x="742" y="951">Clostridium leptum</text></g>
<g id="g-flav"><circle class="r" cx="529" cy="941" r="10"/><text x="466" y="957">Flavonifractor plautii</text></g>
<g id="g-anaet"><circle class="r" cx="700" cy="952" r="10"/><text x="633" y="972">Anaerotruncus colihominis</text></g>
<g id="g-kine"><circle class="r" cx="748" cy="978" r="10"/><text x="716" y="997">Kineothrix alysoides</text></g>
<g id="g-bact"><circle class="r" cx="583" cy="976" r="10"/><text x="553" y="994">bacterium sp.</text></g>
<g id="g-sell"><circle class="r" cx="858" cy="976" r="10"/><text x="832" y="997">Sellimonas intestinalis</text></g>
<g id="g-bacsp"><circle class="r" cx="522" cy="1002" r="10"/><text x="498" y="1020">Bacteroides sp.</text></g>
<g id="g-pept"><circle class="r" cx="725" cy="1023" r="10"/><text x="666" y="1041">Peptostreptococcaceae sp.</text></g>
<g id="g-bedu"><circle class="r" cx="834" cy="1029" r="10"/><text x="761" y="1052">Beduinibacterium massiliense</text></g>
<g id="g-eise"><circle class="r" cx="636" cy="1041" r="10"/><text x="597" y="1058">Eisenbergiella tayi</text></g>
<g id="g-anfil"><circle class="r" cx="555" cy="1074" r="10"/><text x="527" y="1095">Anaerofilum sp.</text></g>
<g id="g-oscsp"><circle class="r" cx="498" cy="1104" r="10"/><text x="488" y="1122">Oscillibacter sp.</text></g>

<g id="h-erys"><circle class="r" cx="947" cy="824" r="10"/><text x="885" y="840">Erysipelatoclostridium ramosum</text></g>
<g id="h-rgna"><circle class="r" cx="990" cy="898" r="10"/><text class="rt" x="944" y="915">Ruminococcus gnavus</text></g>
<g id="h-clsp"><circle class="r" cx="1120" cy="886" r="10"/><text x="1105" y="904">Clostridium sp.</text></g>
<g id="h-lsal"><circle class="r" cx="1078" cy="861" r="10"/><text x="1003" y="879">Lactobacillus salivarius</text></g>
<g id="h-blau"><circle class="r" cx="1093" cy="941" r="10"/><text x="1064" y="961">Blautia sp.</text></g>
<g id="h-csym"><circle class="r" cx="1054" cy="927" r="10"/><text x="966" y="944">Clostridium symbiosum</text></g>
<g id="h-eub"><circle class="r" cx="930" cy="956" r="10"/><text x="909" y="976">Eubacterium sp.</text></g>
<g id="h-congo"><circle class="r" cx="1138" cy="809" r="10"/><text x="1064" y="831">Congobacterium massiliense</text></g>
<g id="h-natr"><circle class="r" cx="1247" cy="824" r="10"/><text x="1172" y="848">Natranaerovirga pectinivora</text></g>
<g id="h-ahad"><circle class="r" cx="1133" cy="920" r="10"/><text x="1107" y="938">Anaerostipes hadrus</text></g>
<g id="h-cory"><circle class="r" cx="1243" cy="909" r="10"/><text x="1148" y="926">Corynebacterium kroppenstedtii</text></g>
<g id="h-rose"><circle class="r" cx="1131" cy="958" r="10"/><text x="1094" y="983">Roseburia hominis</text></g>
<g id="h-cdor"><circle class="r" cx="1221" cy="971" r="10"/><text x="1156" y="995">Candidatus Dorea massiliensis</text></g>
<g id="h-sagal"><circle class="r" cx="1052" cy="1019" r="10"/><text x="976" y="1041">Streptococcus agalactiae</text></g>
<g id="h-acid"><circle class="r" cx="1143" cy="1052" r="10"/><text x="1075" y="1068">Acidaminococcus fermentans</text></g>

<g id="i-muri"><circle class="r" cx="210" cy="1245" r="10"/><text class="rt" x="166" y="1263">Murimonas intestini</text></g>
<g id="i-lgas"><circle class="r" cx="302" cy="1259" r="10"/><text x="264" y="1280">Lactobacillus gasseri</text></g>
<g id="i-fnuc"><circle class="r" cx="386" cy="1229" r="10"/><text x="333" y="1247">Fusobacterium nucleatum</text></g>
<g id="i-smut"><circle class="r" cx="168" cy="1297" r="10"/><text class="rt" x="101" y="1315">Streptococcus mutans</text></g>
<g id="i-agat"><circle class="r" cx="268" cy="1306" r="10"/><text class="rt" x="184" y="1329">Agathobaculum butyriciproducens</text></g>
<g id="i-arad"><circle class="r" cx="327" cy="1295" r="10"/><text x="290" y="1313">Actinomyces radicidentis</text></g>
<g id="i-gemm"><circle class="r" cx="402" cy="1346" r="10"/><text x="355" y="1364">Gemmiger formicilis</text></g>
<g id="i-aori"><circle class="r" cx="312" cy="1360" r="10"/><text x="272" y="1380">Actinomyces oris</text></g>
<g id="i-lach"><circle class="r" cx="261" cy="1349" r="10"/><text x="198" y="1364">Lachnoclostridium sp.</text></g>
<g id="i-dorf"><circle class="r" cx="349" cy="1393" r="10"/><text x="295" y="1413">Dorea formicigenerans</text></g>
<g id="i-kocu"><circle class="r" cx="425" cy="1388" r="10"/><text x="400" y="1403">Kocuria sp.</text></g>
<g id="i-phas"><circle class="r" cx="203" cy="1400" r="10"/><text class="rt" x="88" y="1419">Phascolarctobacterium succinatutens</text></g>
<g id="i-lfer"><circle class="r" cx="292" cy="1427" r="10"/><text x="231" y="1448">Lactobacillus fermentum</text></g>
<g id="i-hhae"><circle class="r" cx="423" cy="1463" r="10"/><text x="357" y="1480">Haemophilus haemolyticus</text></g>
<g id="i-palu"><circle class="r" cx="475" cy="1493" r="10"/><text x="417" y="1513">Paludicola psychrotolerans</text></g>
<g id="i-niam"><circle class="r" cx="503" cy="1411" r="10"/><text x="440" y="1430">Niameybacter massiliensis</text></g>
<g id="i-prev"><circle class="r" cx="495" cy="1321" r="10"/><text x="459" y="1340">Prevotella copri</text></g>
<g id="i-cory"><circle class="r" cx="508" cy="1201" r="10"/><text x="457" y="1219">Corynebacterium sp.</text></g>
<g id="i-anag"><circle class="r" cx="595" cy="1251" r="10"/><text x="549" y="1269">Anaeroglobus sp.</text></g>
<g id="i-faec"><circle class="r" cx="565" cy="1448" r="10"/><text x="510" y="1467">Faecalitalea cylindroides</text></g>

<g id="j-rinu"><circle class="r" cx="648" cy="1186" r="10"/><text x="586" y="1205">Roseburia inulinivorans_</text></g>
<g id="j-dial"><circle class="r" cx="736" cy="1234" r="10"/><text class="rt" x="693" y="1252">Dialister invisus</text></g>
<g id="j-ehal"><circle class="r" cx="797" cy="1258" r="10"/><text x="747" y="1277">Eubacterium hallii</text></g>
<g id="j-rumb"><circle class="r" cx="859" cy="1284" r="10"/><text x="762" y="1310">Ruminococcaceae bacterium</text></g>
<g id="j-orib"><circle class="r" cx="623" cy="1290" r="10"/><text x="578" y="1307">Oribacterium sp.</text></g>
<g id="j-hpar"><circle class="r" cx="726" cy="1333" r="10"/><text x="646" y="1349">Haemophilus parainfluenzae</text></g>
<g id="j-fper"><circle class="r" cx="669" cy="1319" r="10"/><text x="587" y="1329">Fusobacterium periodonticum</text></g>
<g id="j-bcac"><circle class="r" cx="725" cy="1365" r="10"/><text x="677" y="1384">Bacteroides caccae</text></g>
<g id="j-veil"><circle class="r" cx="625" cy="1399" r="10"/><text x="578" y="1414">Veillonella atypica</text></g>
<g id="j-alis"><circle class="r" cx="723" cy="1408" r="10"/><text x="660" y="1424">Alistipes onderdonkii</text></g>
<g id="j-prov"><circle class="r" cx="786" cy="1428" r="10"/><text x="721" y="1449">Provencibacterium massiliense</text></g>
<g id="j-bthe"><circle class="r" cx="716" cy="1466" r="10"/><text x="634" y="1487">Bacteroides thetaiotaomicron</text></g>
<g id="j-atop"><circle class="r" cx="800" cy="1491" r="10"/><text x="757" y="1514">Atopobium parvulum</text></g>
<g id="j-bcel"><circle class="r" cx="664" cy="1523" r="10"/><text x="600" y="1543">Bacteroides cellulosilyticus</text></g>
<g id="j-pept"><circle class="r" cx="808" cy="1543" r="10"/><text x="768" y="1563">Peptoniphilus sp.</text></g>
<g id="j-para"><circle class="r" cx="661" cy="1571" r="10"/><text x="614" y="1591">Parabacteroides sp.</text></g>

<g id="k-veil"><circle class="r" cx="1185" cy="1204" r="10"/><text x="1140" y="1224">Veillonella dispar_</text></g>
<g id="k-kleb"><circle class="r" cx="1088" cy="1227" r="10"/><text x="1029" y="1245">Klebsiella pneumoniae</text></g>
<g id="k-roth"><circle class="r" cx="1101" cy="1282" r="10"/><text x="1074" y="1298">Rothia sp.</text></g>
<g id="k-acts"><circle class="r" cx="1206" cy="1283" r="10"/><text x="1180" y="1307">Actinomyces sp.</text></g>
<g id="k-okad"><circle class="r" cx="1150" cy="1319" r="10"/><text x="1117" y="1332">Okadaella gastrococcus</text></g>
<g id="k-ruth"><circle class="r" cx="1084" cy="1323" r="10"/><text x="1014" y="1343">Ruthenibacterium lactatiformans</text></g>
<g id="k-akk"><circle class="r" cx="1083" cy="1360" r="10"/><text x="994" y="1372">Akkermansia muciniphila</text></g>
<g id="k-tyz"><circle class="r" cx="1148" cy="1364" r="10"/><text x="1125" y="1386">Tyzzerella sp.</text></g>
<g id="k-gran"><circle class="r" cx="1091" cy="1392" r="10"/><text x="1030" y="1412">Granulicatella adiacens</text></g>
<g id="k-strp"><circle class="r" cx="1163" cy="1406" r="10"/><text x="1116" y="1426">Streptococcus sp.</text></g>
<g id="k-fmor"><circle class="r" cx="1165" cy="1451" r="10"/><text x="1115" y="1471">Fusobacterium mortiferum</text></g>
<g id="k-eram"><circle class="r" cx="1098" cy="1475" r="10"/><text x="1041" y="1493">Eubacterium ramulus</text></g>
<g id="k-cdis"><circle class="r" cx="1119" cy="1525" r="10"/><text x="1079" y="1548">Clostridium disporicum</text></g>
</g>
</svg>
